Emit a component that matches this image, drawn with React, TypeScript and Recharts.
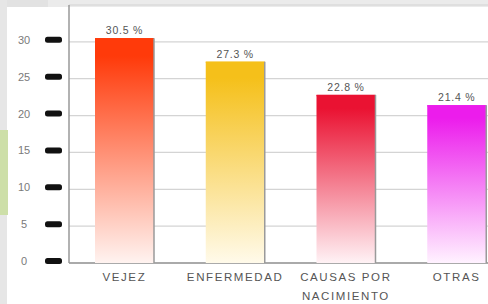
import React from 'react';
import { BarChart, Bar, XAxis, YAxis, CartesianGrid, Cell, LabelList } from 'recharts';

const categories = ['VEJEZ', 'ENFERMEDAD', 'CAUSAS POR NACIMIENTO', 'OTRAS'];
const values = [30.5, 27.3, 22.8, 21.4];
const xLabelLines = [['VEJEZ'], ['ENFERMEDAD'], ['CAUSAS POR', 'NACIMIENTO'], ['OTRAS']];
const yTicks = [0, 5, 10, 15, 20, 25, 30];
const topColors = ['#ff3a0a', '#f5c01a', '#ea1232', '#ec1cec'];
const bottomColors = ['#fff3f0', '#fffaea', '#fff2f5', '#fff2ff'];

const data = categories.map((name, i) => ({ name, value: values[i], idx: i }));

const FONT = '"Liberation Sans", Arial, sans-serif';

function YTick({ y, payload }: any) {
  return (
    <g>
      <text x={24} y={y + 2} textAnchor="middle" fontSize={11} fill="#7a7a7a" fontFamily={FONT}>
        {payload.value}
      </text>
      <rect x={45} y={y - 5} width={17} height={6} rx={2.5} fill="#111" />
    </g>
  );
}

function XTick({ x, payload }: any) {
  const lines = xLabelLines[payload.index] ?? [payload.value];
  return (
    <g>
      {lines.map((l, i) => (
        <text
          key={l}
          x={x}
          y={281 + i * 19}
          textAnchor="middle"
          fontSize={11.5}
          letterSpacing={1.6}
          fill="#555"
          fontFamily={FONT}
        >
          {l}
        </text>
      ))}
    </g>
  );
}

function GradBar(props: any) {
  const { x, y, width, height, payload } = props;
  const i = payload?.idx ?? 0;
  return (
    <g>
      <rect x={x} y={y} width={width} height={height} fill={`url(#barGrad${i})`} />
      <line x1={x} x2={x + width} y1={y + 0.5} y2={y + 0.5} stroke={topColors[i]} strokeWidth={1.5} opacity={0.9} />
      <line x1={x + width} x2={x + width} y1={y} y2={y + height} stroke="#9a9a9a" strokeWidth={1.5} />
    </g>
  );
}

function ValueLabel({ x, y, width, value }: any) {
  return (
    <text
      x={x + width / 2}
      y={y - 4}
      textAnchor="middle"
      fontSize={10.5}
      letterSpacing={0.8}
      fill="#555"
      fontFamily={FONT}
    >
      {`${value} %`}
    </text>
  );
}

function GridLine(props: any) {
  const { x1, x2, y1, y2, index } = props;
  const base = index === 0;
  return <line x1={x1} x2={x2} y1={y1} y2={y2} stroke={base ? '#8e8e8e' : '#d4d4d4'} strokeWidth={base ? 1.5 : 1.2} />;
}

export default function App() {
  return (
    <div style={{ position: 'absolute', left: 0, top: 0, width: 488, height: 304, overflow: 'hidden', background: '#fff' }}>
      <div style={{ position: 'absolute', left: 0, top: 0, width: 488, height: 7, background: '#ebebeb' }} />
      <div style={{ position: 'absolute', left: 0, top: 0, width: 48, height: 7, background: '#e2e2e2' }} />
      <div style={{ position: 'absolute', left: 0, top: 0, width: 7, height: 304, background: '#e6e6e6' }} />
      <div style={{ position: 'absolute', left: 0, top: 130, width: 8, height: 85, background: '#cddfa8' }} />
      <div style={{ position: 'absolute', left: 0, top: 0 }}>
        <BarChart
          width={512}
          height={304}
          data={data}
          margin={{ top: 5, right: 0, left: 0, bottom: 0 }}
          barSize={59}
        >
          <defs>
            {topColors.map((c, i) => (
              <linearGradient key={c} id={`barGrad${i}`} x1="0" y1="0" x2="0" y2="1">
                <stop offset="0%" stopColor={c} />
                <stop offset="8%" stopColor={c} />
                <stop offset="100%" stopColor={bottomColors[i]} />
              </linearGradient>
            ))}
          </defs>
          <CartesianGrid vertical={false} horizontal={<GridLine />} />
          <XAxis
            dataKey="name"
            height={41}
            axisLine={false}
            tickLine={false}
            interval={0}
            tick={<XTick />}
          />
          <YAxis
            width={69}
            domain={[0, 35]}
            ticks={yTicks}
            axisLine={{ stroke: '#999', strokeWidth: 1.5 }}
            tickLine={false}
            tick={<YTick />}
          />
          <Bar dataKey="value" isAnimationActive={false} shape={<GradBar />}>
            {data.map((d) => (
              <Cell key={d.name} fill={topColors[d.idx]} />
            ))}
            <LabelList dataKey="value" content={<ValueLabel />} />
          </Bar>
        </BarChart>
      </div>
    </div>
  );
}
